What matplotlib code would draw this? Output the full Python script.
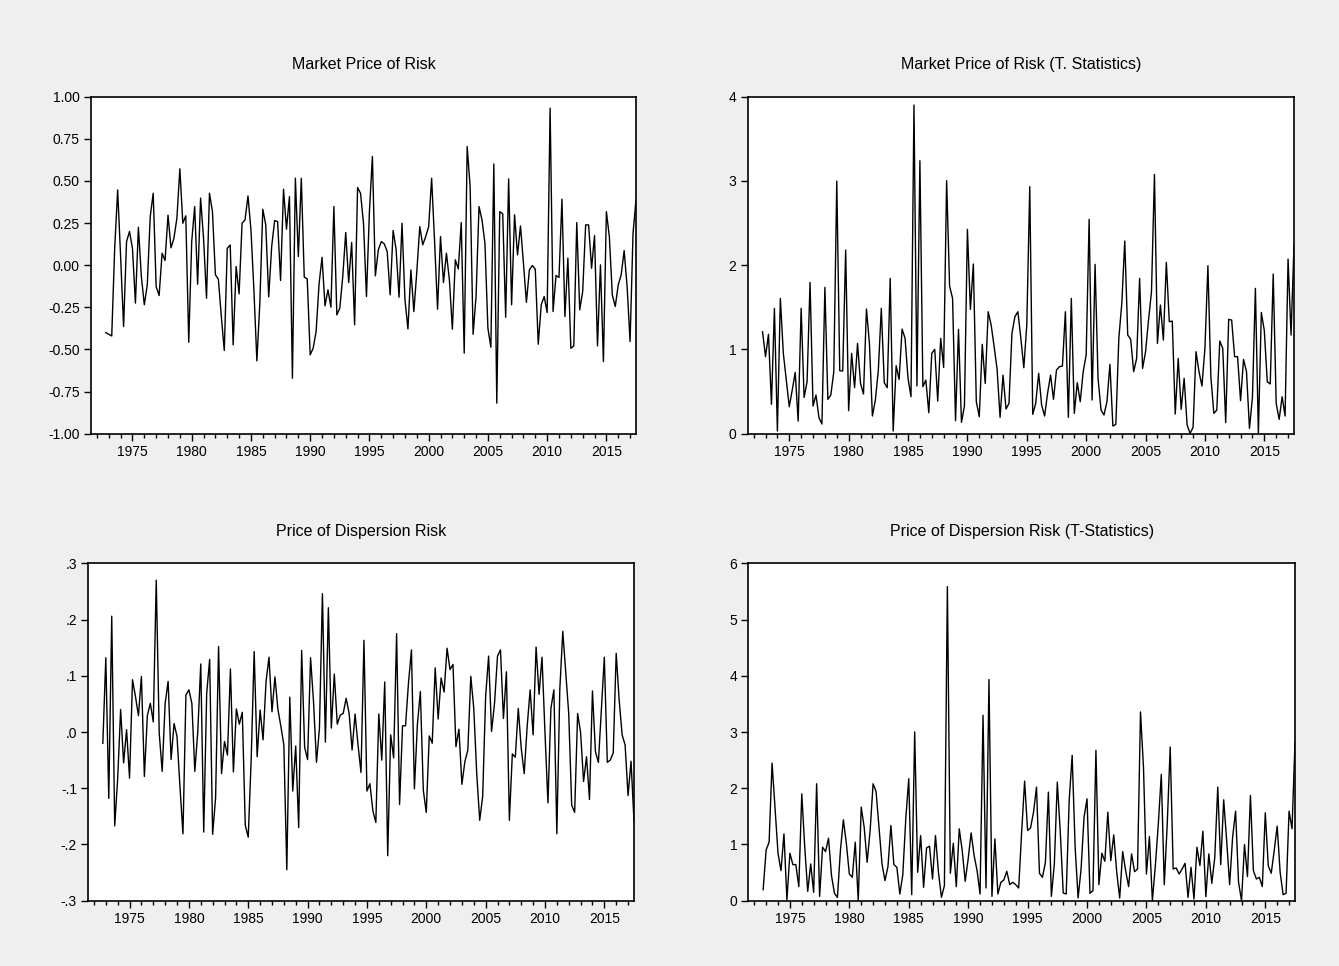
import matplotlib
matplotlib.use("Agg")
import matplotlib.pyplot as plt
import numpy as np
from matplotlib.ticker import FixedLocator

plt.rcParams['font.family'] = ['Liberation Sans', 'DejaVu Sans']

# quarterly observations, 1972Q4 .. 2017Q3
n_obs = 180
start_year = 1972.75

market_price = [
    -0.40, -0.41, -0.42, 0.10, 0.447, 0.05, -0.364, 0.14, 0.20, 0.10,
    -0.225, 0.225, -0.067, -0.235, -0.117, 0.289, 0.427, -0.127, -0.18, 0.071,
    0.028, 0.297, 0.103, 0.16, 0.279, 0.572, 0.249, 0.293, -0.457, 0.14,
    0.348, -0.113, 0.398, 0.16, -0.196, 0.427, 0.318, -0.057, -0.083, -0.305,
    -0.506, 0.10, 0.12, -0.473, -0.008, -0.17, 0.249, 0.269, 0.411, 0.21,
    -0.146, -0.568, -0.225, 0.332, 0.24, -0.188, 0.111, 0.265,
    0.259, -0.091, 0.451, 0.214, 0.407, -0.671, 0.516, 0.051, 0.516, -0.071,
    -0.081, -0.532, -0.493, -0.394, -0.111, 0.047, -0.241, -0.146, -0.249, 0.348,
    -0.295, -0.255, -0.067, 0.194, -0.103, 0.135, -0.354, 0.461, 0.427, 0.249,
    -0.186, 0.318, 0.645, -0.063, 0.091, 0.14, 0.127, 0.081, -0.176, 0.206,
    0.095, -0.19, 0.249, -0.206, -0.378, -0.028, -0.275, -0.038, 0.229, 0.121,
    0.17, 0.229, 0.516, 0.14, -0.261, 0.17, -0.103, 0.071, -0.087, -0.38,
    0.032, -0.022, 0.253, -0.522, 0.704, 0.467, -0.41, -0.186, 0.348, 0.269,
    0.131, -0.374, -0.487, 0.601, -0.819, 0.318, 0.305, -0.309, 0.512, -0.235,
    0.299, 0.061, 0.233, 0.012, -0.22, -0.028, -0.002, -0.024, -0.469, -0.235,
    -0.186, -0.281, 0.932, -0.275, -0.061, -0.073, 0.392, -0.305, 0.042, -0.493,
    -0.479, 0.253, -0.265, -0.156, 0.239, 0.239, -0.018, 0.176, -0.479, 0.002,
    -0.572, 0.318, 0.17, -0.176, -0.245, -0.117, -0.057, 0.087, -0.127, -0.453,
    0.19, 0.388,
]

market_tstat = [
    1.21, 0.914, 1.18, 0.348, 1.488, 0.032, 1.606, 0.954, 0.637, 0.32,
    0.518, 0.728, 0.15, 1.488, 0.431, 0.617, 1.796, 0.328, 0.459, 0.19,
    0.115, 1.737, 0.408, 0.459, 0.736, 2.999, 0.748, 0.744, 2.18, 0.273,
    0.954, 0.546, 1.072, 0.597, 0.471, 1.48, 1.072, 0.21, 0.4, 0.756,
    1.488, 0.605, 0.546, 1.844, 0.032, 0.807, 0.645, 1.242, 1.132, 0.657,
    0.439, 3.901, 0.566, 3.24, 0.558, 0.637, 0.249, 0.954, 1.001, 0.388,
    1.132, 0.787,
    3.003, 1.753, 1.606, 0.154, 1.238, 0.135, 0.328, 2.425, 1.476, 2.014,
    0.38, 0.202, 1.06, 0.597, 1.448, 1.29, 1.033, 0.764, 0.194, 0.696,
    0.293, 0.36, 1.191, 1.389, 1.448, 1.132, 0.783, 1.29, 2.932, 0.229,
    0.36, 0.716, 0.34, 0.21, 0.479, 0.696, 0.408, 0.756, 0.795, 0.803,
    1.448, 0.194, 1.606, 0.241, 0.605, 0.38, 0.736, 0.934, 2.544, 0.4,
    2.01, 0.657, 0.281, 0.222, 0.38, 0.823, 0.091, 0.111, 1.132, 1.547,
    2.287, 1.171, 1.12, 0.736, 0.894, 1.844, 0.775,
    0.973, 1.349, 1.685, 3.078, 1.072, 1.527, 1.112, 2.034, 1.329, 1.337,
    0.233, 0.894, 0.289, 0.657, 0.103, 0.004, 0.075, 0.973, 0.736, 0.566,
    1.013, 1.994, 0.677, 0.241, 0.281, 1.10, 1.013, 0.131, 1.357, 1.349,
    0.914, 0.914, 0.392, 0.882, 0.736, 0.063, 0.431, 1.725, 0.0, 1.44,
    1.223, 0.617, 0.59, 1.895, 0.36, 0.17, 0.439, 0.21, 2.073, 1.171,
    2.239,
]

dispersion_price = [
    -0.020, 0.132, -0.118, 0.206, -0.167, -0.083, 0.040, -0.055, 0.004, -0.082,
    0.093, 0.063, 0.029, 0.099, -0.079, 0.029, 0.051, 0.018, 0.270, -0.002,
    -0.070, 0.051, 0.090, -0.049, 0.015, -0.008, -0.098, -0.181, 0.066, 0.075,
    0.051, -0.070, 0.001, 0.121, -0.178, 0.069, 0.129, -0.182, -0.117, 0.152,
    -0.074, -0.017, -0.041, 0.112, -0.071, 0.041, 0.014, 0.035, -0.166, -0.187,
    -0.047, 0.143, -0.044, 0.039, -0.014, 0.090, 0.133, 0.036, 0.098,
    0.040, 0.010, -0.023, -0.245, 0.062, -0.105, -0.025, -0.170, 0.145, -0.027,
    -0.049, 0.132, 0.054, -0.054, 0.007, 0.246, -0.018, 0.221, 0.007, 0.103,
    0.014, 0.030, 0.033, 0.060, 0.033, -0.032, 0.032, -0.023, -0.072, 0.163,
    -0.105, -0.092, -0.140, -0.161, 0.032, -0.050, 0.089, -0.220, -0.005, -0.046,
    0.175, -0.129, 0.011, 0.011, 0.087, 0.146, -0.101, 0.013, 0.072, -0.104,
    -0.143, -0.007, -0.020, 0.114, 0.023, 0.096, 0.071, 0.149, 0.111, 0.120,
    -0.026, 0.005, -0.093, -0.053, -0.032, 0.099, 0.042, -0.074, -0.157, -0.115,
    0.063, 0.135, 0.001, 0.051, 0.135, 0.146, 0.024, 0.107, -0.157, -0.039,
    -0.045, 0.042, -0.029, -0.074, 0.010, 0.075, -0.005, 0.151, 0.067, 0.133,
    -0.001, -0.126, 0.042, 0.075, -0.181, 0.076, 0.179, 0.105, 0.033, -0.130,
    -0.143, 0.033, -0.001, -0.088, -0.044, -0.120, 0.073, -0.035, -0.054, 0.039,
    0.133, -0.054, -0.050, -0.037, 0.140, 0.057, -0.005, -0.023, -0.113, -0.052,
    -0.159,
]

dispersion_tstat = [
    0.196, 0.903, 1.04, 2.448, 1.634, 0.844, 0.535, 1.188, 0.018, 0.844,
    0.642, 0.642, 0.25, 1.901, 0.951, 0.166, 0.654, 0.149, 2.08, 0.077,
    0.951, 0.873, 1.111, 0.446, 0.131, 0.059, 0.891, 1.438, 1.022, 0.475,
    0.416, 1.04, 0.0, 1.664, 1.307, 0.683, 1.248, 2.08, 1.943, 1.307,
    0.654, 0.357, 0.606, 1.337, 0.642, 0.594, 0.119, 0.463, 1.456, 2.169,
    0.107, 3.001, 0.505, 1.159, 0.238, 0.939, 0.969, 0.386, 1.159, 0.505,
    0.059, 0.267,
    5.585, 0.487, 1.022, 0.25, 1.278, 0.891, 0.345, 0.743, 1.206, 0.802,
    0.535, 0.119, 3.298, 0.226, 3.933, 0.077, 1.099, 0.119, 0.327, 0.368,
    0.523, 0.285, 0.327, 0.285, 0.226, 1.218, 2.127, 1.248, 1.295, 1.575,
    2.02, 0.487, 0.416, 0.683, 1.931, 0.077, 0.654, 2.109, 1.218, 0.137,
    0.119, 1.783, 2.585, 0.951, 0.048, 0.564, 1.485, 1.812, 0.131, 0.178,
    2.674, 0.285, 0.844, 0.701, 1.575, 0.713, 1.171, 0.505, 0.048, 0.873,
    0.535, 0.25, 0.832, 0.517, 0.564, 3.357,
    2.377, 0.475, 1.141, 0.0, 0.624, 1.367, 2.246, 0.285, 1.367, 2.733,
    0.564, 0.582, 0.475, 0.564, 0.665, 0.059, 0.594, 0.030, 0.951, 0.624,
    1.236, 0.071, 0.832, 0.309, 0.772, 2.02, 0.642, 1.794, 1.07, 0.285,
    1.129, 1.592, 0.327, 0.0, 0.998, 0.428, 1.872, 0.535, 0.386, 0.416,
    0.25, 1.563, 0.624, 0.487, 0.891, 1.325, 0.505, 0.107, 0.131, 1.592,
    1.278, 2.822,
]

titles = ["Market Price of Risk", "Market Price of Risk (T. Statistics)",
          "Price of Dispersion Risk", "Price of Dispersion Risk (T-Statistics)"]

yticks_mp = [-1.0, -0.75, -0.5, -0.25, 0.0, 0.25, 0.5, 0.75, 1.0]
yticklabels_mp = ["-1.00", "-0.75", "-0.50", "-0.25", "0.00", "0.25", "0.50", "0.75", "1.00"]
yticks_dp = [-0.3, -0.2, -0.1, 0.0, 0.1, 0.2, 0.3]
yticklabels_dp = ["-.3", "-.2", "-.1", ".0", ".1", ".2", ".3"]
yticks_t1 = [0, 1, 2, 3, 4]
yticks_t2 = [0, 1, 2, 3, 4, 5, 6]

dates = start_year + 0.25 * np.arange(n_obs)

W, H = 1339, 966
fig = plt.figure(figsize=(W / 100, H / 100), dpi=100, facecolor='#efefef')

# panel boxes in pixels: left, top, right, bottom
boxes = [(91, 96.7, 636, 433.7), (747.7, 96.7, 1294, 433.7),
         (88, 563.3, 634, 900.7), (748.3, 563.3, 1295, 900.7)]
series = [market_price, market_tstat, dispersion_price, dispersion_tstat]
ylims = [(-1, 1), (0, 4), (-0.3, 0.3), (0, 6)]
ytks = [(yticks_mp, yticklabels_mp), (yticks_t1, [str(v) for v in yticks_t1]),
        (yticks_dp, yticklabels_dp), (yticks_t2, [str(v) for v in yticks_t2])]

for i in range(4):
    l, t, r, b = boxes[i]
    ax = fig.add_axes([l / W, 1 - b / H, (r - l) / W, (b - t) / H])
    ax.set_facecolor('white')
    ax.plot(dates, series[i], color='black', lw=1.0)
    ax.set_xlim(1971.5, 2017.5)
    ax.set_ylim(*ylims[i])
    ax.xaxis.set_major_locator(FixedLocator(range(1975, 2016, 5)))
    ax.xaxis.set_minor_locator(FixedLocator(range(1972, 2018)))
    ax.set_yticks(ytks[i][0])
    ax.set_yticklabels(ytks[i][1])
    ax.tick_params(axis='both', which='major', direction='out', length=5,
                   width=1.0, labelsize=10, pad=3)
    ax.tick_params(axis='x', which='minor', direction='out', length=3, width=1.0)
    for s in ax.spines.values():
        s.set_linewidth(1.2)
    fig.text((l + r) / 2 / W, 1 - (t - 32) / H, titles[i], ha='center',
             va='center', fontsize=11.5)

fig.savefig("out.png", dpi=100, facecolor=fig.get_facecolor())
